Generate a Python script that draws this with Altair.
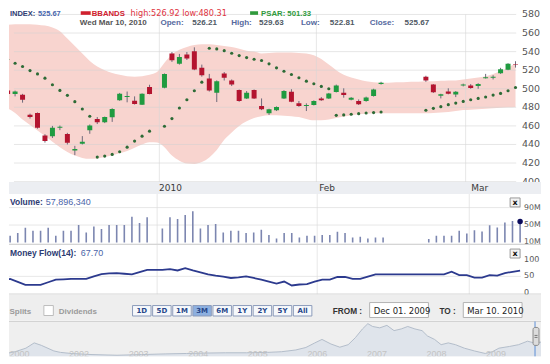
import altair as alt
import pandas as pd

# ---------------- data ----------------
# slot = weekday position, slot 0 = Fri Dec 4 2009 ... slot 68 = Wed Mar 10 2010
candle_slot = list(range(0, 20)) + list(range(21, 51)) + list(range(56, 69))
open_p = [498.2, 494.3, 493.6, 472.1, 473.9, 449.6, 448.9, 458.0, 451.4, 433.5,
          440.7, 455.4, 467.5, 464.0, 469.3, 487.5, 491.0, 487.1, 482.9, 501.8,
          501.0, 537.9, 526.8, 536.8, 540.4, 522.5, 511.0, 495.7, 516.4, 508.9,
          498.6, 489.6, 498.6, 481.4, 473.6, 476.8, 489.6, 496.8, 484.3, 481.4,
          482.5, 489.6, 489.6, 496.4, 495.7, 488.2, 486.8, 486.8, 492.1, 505.0,
          512.9, 504.6, 492.5, 497.1, 493.9, 503.4, 503.6, 502.9, 511.4, 511.8,
          516.8, 520.4, 526.21]
high_p = [499.5, 498.0, 494.5, 473.2, 474.5, 451.0, 460.0, 460.4, 452.5, 438.5,
          449.0, 461.5, 469.5, 470.0, 479.0, 495.5, 497.0, 491.8, 495.0, 504.3,
          516.5, 539.5, 537.5, 539.6, 544.6, 526.0, 516.0, 509.0, 518.0, 510.0,
          499.2, 497.5, 499.2, 489.6, 478.5, 481.0, 498.5, 499.5, 486.8, 484.3,
          487.5, 491.0, 495.5, 504.5, 500.5, 491.0, 488.5, 491.5, 500.0, 507.5,
          514.0, 505.0, 494.6, 500.5, 497.5, 505.5, 505.0, 506.0, 516.0, 514.6,
          522.5, 527.5, 529.63]
low_p = [493.5, 491.8, 485.0, 467.9, 457.0, 442.0, 447.0, 455.4, 440.0, 428.5,
         440.0, 451.5, 462.0, 463.0, 464.3, 487.0, 485.4, 483.0, 482.5, 494.0,
         500.5, 528.9, 526.0, 531.0, 520.0, 513.0, 497.0, 485.7, 508.9, 502.9,
         486.0, 489.0, 489.0, 477.0, 471.8, 476.0, 489.0, 485.5, 480.5, 476.0,
         482.0, 487.0, 489.0, 496.0, 490.4, 487.5, 482.5, 486.0, 491.5, 504.5,
         507.5, 495.5, 489.6, 494.0, 491.0, 502.5, 500.0, 500.0, 511.0, 510.0,
         516.0, 520.0, 522.81]
close_p = [494.3, 497.1, 488.2, 469.6, 457.9, 443.6, 457.9, 459.1, 441.8, 435.0,
           442.8, 460.4, 464.0, 469.6, 478.2, 494.6, 492.1, 483.6, 494.6, 494.3,
           516.0, 530.7, 534.3, 532.5, 520.7, 514.6, 498.2, 508.2, 511.8, 504.6,
           486.8, 495.7, 489.6, 477.9, 477.9, 480.4, 497.5, 486.1, 481.4, 482.5,
           486.8, 487.5, 495.0, 503.6, 493.2, 490.4, 483.2, 490.7, 499.3, 506.4,
           508.9, 496.1, 494.0, 494.6, 496.8, 504.5, 500.7, 505.0, 512.5, 512.9,
           521.0, 526.8, 525.67]
volume_m = [31.5, 25.4, 31.5, 43.8, 36.9, 36.9, 43.8, 25.4, 36.9, 36.9,
            50.0, 33.0, 46.9, 40.8, 50.0, 50.0, 50.0, 69.2, 54.6, 67.7,
            42.3, 67.7, 63.8, 73.0, 81.5, 42.3, 50.0, 52.3, 33.0, 36.9,
            36.9, 31.5, 33.0, 39.2, 26.9, 19.2, 31.5, 31.5, 21.5, 25.4,
            25.4, 26.9, 26.9, 34.6, 31.5, 21.5, 23.0, 19.2, 21.5, 21.5,
            17.7, 25.4, 25.2, 25.2, 36.7, 30.6, 38.2, 35.1, 49.6, 44.3,
            55.7, 59.5, 57.896]
money_flow = [37, 42, 33, 24, 24, 24, 32, 40, 41, 42,
              42, 42, 50, 57, 59, 60, 58, 56, 63, 70,
              70, 72, 68, 75, 68, 62, 56, 52, 49, 45,
              47, 50, 45, 40, 34, 28, 34, 22, 25, 26,
              34, 40, 40, 48, 48, 42, 42, 49, 56, 56,
              56, 56, 56, 64, 54, 54, 46, 46, 54, 52,
              60, 64, 67.70]
psar = [531.8, 527.5, 524.0, 519.6, 516.0, 511.4, 504.3, 498.2, 492.9, 486.1,
        478.2, 470.4, 426.4, 427.5, 429.3, 432.1, 437.1, 443.6, 448.9, 454.3,
        459.6, 467.9, 479.3, 488.2, 497.9, 507.1, 543.6, 542.9, 541.0, 538.2,
        535.7, 533.6, 531.8, 530.4, 526.8, 522.5, 518.9, 515.4, 511.8, 508.2,
        505.4, 502.5, 500.0, 471.4, 471.8, 472.5, 473.2, 473.9, 474.3, 475.0,
        476.8, 478.9, 480.7, 482.9, 484.6, 486.4, 488.2, 489.6, 491.1, 493.2,
        495.0, 497.9, 501.33]

band_slot = list(range(0, 69))
band_upper = [569, 569.5, 569.5, 569.5, 569, 568, 566, 562, 554, 546,
              538, 530, 524, 520, 517, 515, 513.5, 513, 513.5, 515,
              518, 528, 537, 542, 545, 547, 548, 548, 547, 546,
              545, 543, 541, 540, 538, 538.5, 539, 539, 539, 538.5,
              538, 536, 532, 526, 520, 515, 512, 510, 508, 507,
              506.5, 506.5, 507, 507, 507.5, 507.5, 508, 508, 508.5, 509,
              509, 510, 511, 512, 513.5, 516, 519, 523, 526.92]
band_lower = [479, 474, 467, 461, 455, 449, 443, 437, 432, 428,
              425.5, 424.5, 425, 426.5, 428.5, 430.5, 433, 436.5, 440, 442.5,
              442, 437, 428, 422.5, 419.5, 419, 421, 426, 434, 445,
              453, 460, 465, 468.5, 470.5, 471.5, 471.5, 471, 470.5, 469.5,
              467.5, 466, 466, 467, 468.5, 470, 471.5, 472.5, 473, 473.5,
              473.5, 473.5, 473.5, 473.5, 473.5, 473.5, 473.5, 474, 474.5, 475,
              476, 477, 477.5, 478, 478.5, 479, 479.5, 480, 480.31]

price_ticks = [400, 420, 440, 460, 480, 500, 520, 540, 560, 580]
month_pos = [20.31, 41.34, 61.32]
month_lab = ["2010", "Feb", "Mar"]
vol_ticks = [90, 50, 10]
vol_lab = ["90M", "50M", "10M"]
mf_ticks = [100, 50, 0]
buttons = ["1D", "5D", "1M", "3M", "6M", "1Y", "2Y", "5Y", "All"]

nav_year = [2000.88, 2001.12, 2001.30, 2001.44, 2001.56, 2001.77, 2001.88, 2002.06, 2002.41,
            2002.83, 2003.24, 2003.65, 2004.0, 2004.30, 2004.65, 2005.0, 2005.36, 2005.59,
            2005.83, 2006.0, 2006.15, 2006.27, 2006.42, 2006.57, 2006.71, 2006.83, 2006.95,
            2007.04, 2007.12, 2007.24, 2007.36, 2007.48, 2007.60, 2007.71, 2007.83, 2007.95,
            2008.04, 2008.16, 2008.27, 2008.39, 2008.51, 2008.66, 2008.83, 2009.01, 2009.13,
            2009.24, 2009.42, 2009.57, 2009.72, 2009.83, 2009.95]
nav_value = [160, 236, 333, 478, 410, 257, 218, 188, 158, 139, 158, 177, 188, 199, 207,
             207, 218, 236, 284, 352, 478, 573, 448, 360, 429, 620, 860, 1005, 928, 890,
             958, 814, 860, 928, 860, 814, 669, 573, 429, 478, 429, 333, 257, 188, 236,
             333, 381, 429, 525, 478, 500]
nav_tick_year = [2001, 2002, 2003, 2004, 2005, 2006, 2007, 2008, 2009]
nav_tick_lab = ["2000", "2002", "2003", "2004", "2005", "2006", "2007", "2008", "2009"]

# ---------------- frames ----------------
cdf = pd.DataFrame({"slot": candle_slot, "open": open_p, "high": high_p, "low": low_p,
                    "close": close_p, "vol": volume_m, "mf": money_flow, "psar": psar})
cdf["dir"] = ["up" if c >= o else "down" for o, c in zip(open_p, close_p)]
bdf = pd.DataFrame({"slot": band_slot, "upper": band_upper, "lower": band_lower})
mdf = pd.DataFrame({"pos": month_pos, "lab": month_lab})
D = pd.DataFrame({"d": [0]})

W = 534
XDOM = [0.8508, 70.746]
PDOM = [399.57, 585.19]
VDOM = [7.03, 121.3]
MDOM = [-5.8, 149.7]
NXDOM = [2001.0167, 2009.9465]
NYDOM = [109.2, 1092.0]
SANS = "Liberation Sans"
VERD = "DejaVu Sans"


def X(field, dom=XDOM):
    return alt.X(field, scale=alt.Scale(domain=dom, nice=False, zero=False), axis=None)


def Y(field, dom):
    return alt.Y(field, scale=alt.Scale(domain=dom, nice=False, zero=False), axis=None)


def txt(t, x, y, color, size=8.5, bold=False, align="left", font=SANS, clip=False,
        baseline="alphabetic"):
    return alt.Chart(D).mark_text(text=t, align=align, baseline=baseline, font=font,
                                  fontSize=size, fontWeight="bold" if bold else "normal",
                                  color=color, clip=clip).encode(x=alt.value(x), y=alt.value(y))


def box(x0, x1, y0, y1, fill, stroke=None, sw=1, r=0):
    kw = dict(fill=fill, cornerRadius=r)
    if stroke:
        kw.update(stroke=stroke, strokeWidth=sw)
    return alt.Chart(D).mark_rect(**kw).encode(x=alt.value(x0), x2=alt.value(x1),
                                                y=alt.value(y0), y2=alt.value(y1))


def hline(y, x0, x1, color, sw=1):
    return alt.Chart(D).mark_rule(color=color, strokeWidth=sw).encode(
        x=alt.value(x0), x2=alt.value(x1), y=alt.value(y))


def hgrid(ticks, dom, color="#d2d2d2", op=0.55):
    g = pd.DataFrame({"v": ticks, "a": 0.8508, "b": 68.09})
    return alt.Chart(g).mark_rule(color=color, opacity=op, strokeWidth=1).encode(
        x=X("a:Q"), x2="b:Q", y=Y("v:Q", dom))


def vgrid(h):
    return alt.Chart(mdf).mark_rule(color="#d6d6d6", opacity=0.6, strokeWidth=1).encode(
        x=X("pos:Q"), y=alt.value(0), y2=alt.value(h))


def right_labels(ticks, labs, dom, x, size):
    t = pd.DataFrame({"v": ticks, "lab": labs})
    return alt.Chart(t).mark_text(align="left", baseline="middle", font=VERD, fontSize=size,
                                  color="#555555").encode(x=alt.value(x), y=Y("v:Q", dom),
                                                          text="lab:N")


def xbtn(y0):
    return [box(503, 513, y0, y0 + 9, "#f3f3f3", "#9a9a9a"),
            txt("x", 508, y0 + 7.2, "#111111", 8, True, "center", VERD)]


# ---------------- panel 1: price ----------------
H1 = 173
band = alt.Chart(bdf).mark_area(interpolate="monotone", color="#f8d4cf", clip=True).encode(
    x=X("slot:Q"), y=Y("upper:Q", PDOM), y2="lower:Q")
vg1 = alt.Chart(mdf).mark_rule(color="#d6d6d6", opacity=0.6).encode(
    x=X("pos:Q"), y=alt.value(4.8), y2=alt.value(H1))
wicks = alt.Chart(cdf).mark_rule(color="#6d6879", strokeWidth=1, clip=True).encode(
    x=X("slot:Q"), y=Y("low:Q", PDOM), y2="high:Q")
bodies = alt.Chart(cdf).mark_bar(size=5, clip=True).encode(
    x=X("slot:Q"), y=Y("open:Q", PDOM), y2="close:Q",
    color=alt.Color("dir:N", scale=alt.Scale(domain=["up", "down"],
                                             range=["#1f9b40", "#b4142f"]), legend=None))
dots = alt.Chart(cdf).mark_circle(size=10, color="#2d6b36", opacity=1, clip=True).encode(
    x=X("slot:Q"), y=Y("psar:Q", PDOM))
plab = right_labels(price_ticks, [str(v) for v in price_ticks], PDOM, 515, 9.5)

R1, R2 = 6.0, 15.5
head = [
    txt("INDEX:", 1, R1, "#2f3d73", 7.5, True),
    txt("525.67", 29, R1, "#4766ad", 7.5, True),
    box(72, 82, 1.6, 5.2, "#d0202e"),
    txt("BBANDS", 83, R1, "#d0202e", 7.8, True),
    txt("high:526.92 low:480.31", 122, R1, "#e0343f", 8.2, False, font=VERD),
    box(242, 250, 1.6, 5.2, "#2f9a3c"),
    txt("PSAR: 501.33", 253, R1, "#2f9a3c", 7.8, True),
    txt("Wed Mar 10, 2010", 71, R2, "#555555", 8.1, True),
    txt("Open:", 152, R2, "#56699e", 8.1, True),
    txt("526.21", 184, R2, "#4f5964", 8.1, True),
    txt("High:", 223, R2, "#56699e", 8.1, True),
    txt("529.63", 251, R2, "#4f5964", 8.1, True),
    txt("Low:", 293, R2, "#56699e", 8.1, True),
    txt("522.81", 322, R2, "#4f5964", 8.1, True),
    txt("Close:", 362, R2, "#56699e", 8.1, True),
    txt("525.67", 397, R2, "#4f5964", 8.1, True),
]
p1 = alt.layer(band, hgrid(price_ticks, PDOM), vg1, wicks, bodies, dots, plab, *head).properties(
    width=W, height=H1)

# ---------------- panel 2: date strip ----------------
H2 = 12
strip = box(0, W, 0, H2, "#eceef2")
mlab = alt.Chart(mdf).mark_text(align="left", baseline="middle", dx=2, font=VERD, fontSize=9,
                                color="#3a3a3a").encode(x=X("pos:Q"), y=alt.value(6.3),
                                                        text="lab:N")
p2 = alt.layer(strip, mlab).properties(width=W, height=H2)

# ---------------- panel 3: volume ----------------
H3 = 50
vbars = alt.Chart(cdf).mark_rule(color="#7c86b0", strokeWidth=1.6, clip=True).encode(
    x=X("slot:Q"), y=Y("vol:Q", VDOM), y2=alt.datum(10))
vdot = alt.Chart(cdf.tail(1)).mark_circle(size=30, color="#0b0b5c", opacity=1).encode(
    x=X("slot:Q"), y=Y("vol:Q", VDOM))
p3 = alt.layer(
    vgrid(H3), hgrid([50, 90], VDOM, "#dcdcdc", 0.7), vbars, vdot,
    txt("Volume:", 1, 11, "#2d3b72", 8.5, True),
    txt("57,896,340", 37, 11, "#4a64a8", 9),
    *xbtn(4),
    right_labels(vol_ticks, vol_lab, VDOM, 517, 7.8),
).properties(width=W, height=H3)

# ---------------- panel 4: money flow ----------------
H4 = 51
mline = alt.Chart(cdf).mark_line(color="#2c3a8e", strokeWidth=1.8, clip=True).encode(
    x=X("slot:Q"), y=Y("mf:Q", MDOM))
p4 = alt.layer(
    hline(0.5, 0, W, "#c8c8c8"), vgrid(H4), hgrid([50], MDOM, "#dcdcdc", 0.7),
    hline(50.5, 0, W, "#cfcfcf"), mline,
    txt("Money Flow(14):", 1, 12, "#2d3b72", 8.5, True),
    txt("67.70", 72, 12, "#4a64a8", 9),
    *xbtn(5.3),
    right_labels(mf_ticks, [str(v) for v in mf_ticks], MDOM, 517, 8),
).properties(width=W, height=H4)

# ---------------- panel 5: controls ----------------
H5 = 26
bdf5 = pd.DataFrame({"b": buttons})
bscale = alt.Scale(domain=buttons, range=[124, 304], paddingInner=0.08, paddingOuter=0)
brect = alt.Chart(bdf5).mark_rect(stroke="#8d9cbb", strokeWidth=1).encode(
    x=alt.X("b:N", scale=bscale, axis=None), y=alt.value(11), y2=alt.value(21.5),
    fill=alt.condition(alt.datum.b == "3M", alt.value("#8db0e0"), alt.value("#f6f8fb")))
btext = alt.Chart(bdf5).mark_text(font=VERD, fontSize=7, fontWeight="bold", color="#27478a",
                                  baseline="middle").encode(
    x=alt.X("b:N", scale=bscale, axis=None), y=alt.value(16.6), text="b:N")
p5 = alt.layer(
    box(0, W, 0, H5, "#eeeeee"),
    txt("Splits", 0.5, 19, "#9a9a9a", 8, True),
    box(35, 44.5, 11, 21, "#ffffff", "#bdbdbd"),
    txt("Dividends", 50, 19, "#9a9a9a", 8, True),
    brect, btext,
    txt("FROM :", 325, 19, "#333333", 8.3, True),
    box(362, 421, 8, 23, "#ffffff", "#b3b3b3"),
    txt("Dec 01. 2009", 366, 19, "#222222", 8.5, font=VERD),
    txt("TO :", 432, 19, "#333333", 8.3, True),
    box(456, 515, 8, 23, "#ffffff", "#b3b3b3"),
    txt("Mar 10. 2010", 460, 19, "#222222", 8.5, font=VERD),
).properties(width=W, height=H5)

# ---------------- panel 6: navigator ----------------
H6 = 36
ndf = pd.DataFrame({"yr": nav_year, "v": nav_value})
ntk = pd.DataFrame({"yr": nav_tick_year, "lab": nav_tick_lab})
narea = alt.Chart(ndf).mark_area(color="#dfe4eb", clip=True).encode(
    x=X("yr:Q", NXDOM), y=Y("v:Q", NYDOM), y2=alt.datum(0))
nline = alt.Chart(ndf).mark_line(color="#b3bdca", strokeWidth=1, clip=True).encode(
    x=X("yr:Q", NXDOM), y=Y("v:Q", NYDOM))
nlab = alt.Chart(ntk).mark_text(align="left", dx=1.5, font=SANS, fontSize=9, color="#c3c3c3",
                                clip=True).encode(x=X("yr:Q", NXDOM), y=alt.value(33.5),
                                                  text="lab:N")
p6 = alt.layer(
    box(0, W, 0, H6, "#efefef"), hline(1, 0, W, "#d2d2d2"), narea, nline, nlab,
    alt.Chart(D).mark_rule(color="#5c8fd6", strokeWidth=1).encode(
        x=alt.value(528), y=alt.value(1), y2=alt.value(H6)),
    box(526, 532, 7, 25, "#dcdcdc", "#8a8a8a", 1, 2),
    hline(15, 527.5, 530.5, "#777777"), hline(17, 527.5, 530.5, "#777777"),
).properties(width=W, height=H6)

chart = alt.vconcat(p1, p2, p3, p4, p5, p6, spacing=0, bounds="flush").resolve_scale(
    x="independent", y="independent", color="independent", fill="independent"
).properties(padding=0).configure_view(stroke=None)

chart.save("out.html", embed_options={"renderer": "svg", "actions": False})
